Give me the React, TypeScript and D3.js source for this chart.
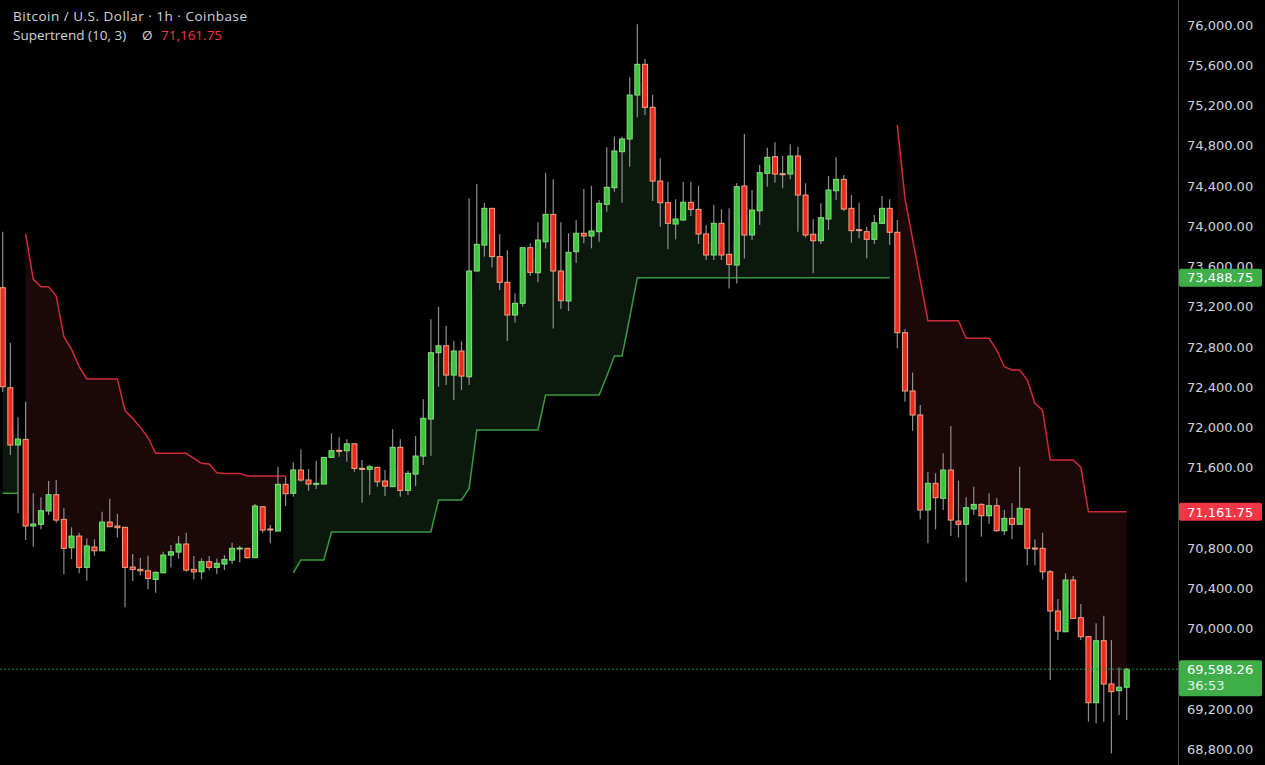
import React from 'react';
import * as d3 from 'd3';

const W = 1265;
const H = 765;

const opens = [
  73389, 72395, 71826, 71882, 71021, 71038, 71170, 71332, 71087, 70805,
  70921, 70610, 70812, 70775, 71060, 71021, 71008, 70613, 70590, 70576,
  70490, 70556, 70732, 70762, 70842, 70590, 70566, 70666, 70610, 70643,
  70682, 70795, 70799, 70706, 71213, 70991, 70971, 71435, 71346, 71577,
  71478, 71435, 71438, 71703, 71773, 71769, 71838, 71594, 71584, 71604,
  71468, 71412, 71803, 71375, 71537, 71716, 72084, 72743, 72812, 72521,
  72760, 72504, 73555, 73813, 74178, 73698, 73443, 73118, 73234, 73787,
  73538, 73846, 74118, 73555, 73257, 73747, 73930, 73903, 73946, 74218,
  74383, 74741, 74867, 75304, 75609, 75182, 74449, 74234, 74022, 74062,
  74238, 74168, 73923, 73714, 74029, 73721, 73614, 74400, 73913, 74154,
  74526, 74691, 74522, 74519, 74698, 74310, 73920, 73856, 74072, 74353,
  74466, 74178, 73966, 73946, 73870, 74029, 74178, 73940, 72942, 72363,
  72124, 71180, 71445, 71296, 71577, 71070, 71038, 71190, 71236, 71123,
  71223, 70974, 71097, 71038, 71190, 70802, 70799, 70566, 70176, 69970,
  70484, 70110, 69921, 69265, 69881, 69451, 69385, 69419,
];

const highs = [
  73945, 72842, 72101, 72256, 71346, 71306, 71468, 71478, 71197, 71008,
  70954, 70898, 70888, 71163, 71293, 71144, 71011, 70742, 70703, 70725,
  70572, 70765, 70832, 70921, 70954, 70722, 70699, 70722, 70699, 70732,
  70855, 70822, 70802, 71240, 71220, 71031, 71610, 71511, 71654, 71783,
  71587, 71667, 71703, 71942, 71902, 71882, 71838, 71677, 71627, 71610,
  71577, 71982, 71882, 71570, 71915, 72280, 73075, 73199, 73010, 72859,
  72859, 74277, 74419, 74234, 74178, 73920, 73764, 73333, 73787, 73830,
  74039, 74532, 74466, 74039, 73930, 74062, 74369, 74402, 74260, 74784,
  74890, 74890, 75480, 76007, 75663, 75304, 74675, 74441, 74268, 74441,
  74441, 74402, 74012, 74211, 74168, 74178, 74427, 74916, 74360, 74609,
  74780, 74834, 74698, 74814, 74790, 74427, 74072, 74228, 74499, 74685,
  74509, 74310, 74234, 73996, 74111, 74300, 74268, 74062, 72976, 72547,
  72223, 71561, 71544, 71743, 72015, 71471, 71306, 71412, 71246, 71346,
  71296, 71180, 71246, 71610, 71200, 70888, 70954, 70583, 70295, 70550,
  70524, 70245, 69928, 70054, 70130, 69888, 69616, 69610,
];

const lows = [
  72355, 71726, 71147, 70882, 70815, 70988, 71130, 71053, 70544, 70693,
  70551, 70477, 70726, 70772, 71011, 70908, 70213, 70474, 70531, 70392,
  70358, 70553, 70610, 70696, 70566, 70490, 70490, 70583, 70544, 70583,
  70643, 70660, 70699, 70703, 70954, 70849, 70971, 71220, 71312, 71461,
  71370, 71390, 71438, 71703, 71709, 71659, 71560, 71253, 71329, 71412,
  71319, 71412, 71312, 71329, 71418, 71627, 71716, 72405, 72422, 72273,
  72372, 72422, 73555, 73698, 73591, 73366, 72859, 73044, 73200, 73509,
  73443, 73779, 72984, 73178, 73158, 73636, 73830, 73780, 73846, 74144,
  74343, 74234, 74592, 75083, 75105, 74250, 73996, 73771, 73870, 74052,
  74101, 73824, 73664, 73664, 73664, 73382, 73432, 73680, 73863, 74012,
  74393, 74433, 74377, 74466, 73945, 73890, 73532, 73824, 73963, 74260,
  74155, 73837, 73880, 73681, 73824, 74029, 73814, 72787, 72256, 71967,
  71089, 70849, 70988, 71180, 70921, 70908, 70464, 71130, 70915, 71044,
  70964, 70931, 70892, 71038, 70630, 70630, 70490, 69490, 69888, 69970,
  70103, 69888, 69077, 69060, 69076, 68762, 69143, 69093,
];

const closes = [
  72405, 71826, 71885, 71021, 71041, 71173, 71332, 71080, 70799, 70921,
  70610, 70822, 70775, 71060, 71014, 71004, 70610, 70590, 70576, 70500,
  70560, 70732, 70765, 70842, 70583, 70566, 70666, 70610, 70650, 70689,
  70799, 70802, 70706, 71220, 70981, 70981, 71435, 71342, 71578, 71478,
  71438, 71445, 71703, 71769, 71766, 71838, 71594, 71584, 71610, 71461,
  71418, 71803, 71375, 71544, 71716, 72091, 72743, 72812, 72521, 72760,
  72511, 73555, 73820, 74178, 73698, 73443, 73118, 73234, 73787, 73542,
  73863, 74118, 73555, 73260, 73741, 73930, 73903, 73953, 74228, 74387,
  74748, 74867, 75304, 75609, 75182, 74449, 74234, 74029, 74072, 74238,
  74168, 73923, 73714, 74029, 73714, 73621, 74393, 73913, 74161, 74532,
  74685, 74519, 74516, 74698, 74310, 73913, 73856, 74085, 74360, 74466,
  74171, 73956, 73960, 73870, 74035, 74178, 73940, 72942, 72363, 72124,
  71180, 71445, 71302, 71577, 71080, 71038, 71203, 71236, 71123, 71223,
  70974, 71097, 71038, 71197, 70799, 70795, 70566, 70176, 69977, 70484,
  70103, 69921, 69265, 69881, 69451, 69375, 69419, 69598.26,
];

// Supertrend (10, 3): up-trend line values (green) and down-trend line values (red)
const stUp: (number | null)[] = [
  71346, 71346, 71346, null, null, null, null, null, null, null,
  null, null, null, null, null, null, null, null, null, null,
  null, null, null, null, null, null, null, null, null, null,
  null, null, null, null, null, null, null, null, 70556, 70683,
  70683, 70683, 70683, 70961, 70961, 70961, 70961, 70961, 70961, 70961,
  70961, 70961, 70961, 70961, 70961, 70961, 70961, 71279, 71279, 71279,
  71279, 71395, 71975, 71975, 71975, 71975, 71975, 71975, 71975, 71975,
  71975, 72322, 72322, 72322, 72322, 72322, 72322, 72322, 72322, 72510,
  72710, 72710, 73093, 73488.75, 73488.75, 73488.75, 73488.75, 73488.75, 73488.75, 73488.75,
  73488.75, 73488.75, 73488.75, 73488.75, 73488.75, 73488.75, 73488.75, 73488.75, 73488.75, 73488.75,
  73488.75, 73488.75, 73488.75, 73488.75, 73488.75, 73488.75, 73488.75, 73488.75, 73488.75, 73488.75,
  73488.75, 73488.75, 73488.75, 73488.75, 73488.75, 73488.75, 73488.75, null, null, null,
  null, null, null, null, null, null, null, null, null, null,
  null, null, null, null, null, null, null, null, null, null,
  null, null, null, null, null, null, null, null,
];

const stDown: (number | null)[] = [
  null, null, null, 73923, 73473, 73400, 73400, 73307, 72903, 72778,
  72605, 72483, 72483, 72483, 72483, 72483, 72166, 72091, 72001, 71902,
  71743, 71743, 71743, 71743, 71743, 71694, 71644, 71637, 71551, 71544,
  71544, 71544, 71518, 71518, 71518, 71518, 71518, 71518, null, null,
  null, null, null, null, null, null, null, null, null, null,
  null, null, null, null, null, null, null, null, null, null,
  null, null, null, null, null, null, null, null, null, null,
  null, null, null, null, null, null, null, null, null, null,
  null, null, null, null, null, null, null, null, null, null,
  null, null, null, null, null, null, null, null, null, null,
  null, null, null, null, null, null, null, null, null, null,
  null, null, null, null, null, null, null, 75006, 74278, 73873,
  73466, 73061, 73061, 73061, 73061, 73061, 72887, 72887, 72887, 72887,
  72770, 72604, 72571, 72571, 72472, 72240, 72173, 71677, 71677, 71677,
  71677, 71605, 71161.75, 71161.75, 71161.75, 71161.75, 71161.75, 71161.75,
];

const priceTicks = [
  76000, 75600, 75200, 74800, 74400, 74000, 73600, 73200, 72800, 72400,
  72000, 71600, 71200, 70800, 70400, 70000, 69600, 69200, 68800,
];

const titleText = 'Bitcoin / U.S. Dollar · 1h · Coinbase';
const indicatorText = 'Supertrend (10, 3)';
const countdownText = '36:53';

const UP = '#3dc43f';
const UP_BORDER = '#86e07f';
const DOWN = '#ec2a1e';
const DOWN_BORDER = '#f6a582';
const WICK = '#8e8e8e';
const AXIS_FONT = '"DejaVu Sans", sans-serif';
const TITLE_FONT = '"Open Sans", "Noto Sans", sans-serif';

export default function App() {
  const n = opens.length;
  const x = d3.scaleLinear().domain([0, n - 1]).range([2.7, 1126.7]);
  const y = d3.scaleLinear().domain([68800, 76000]).range([749.5, 25]);
  const fmt = d3.format(',.2f');
  const idx = d3.range(n);
  const mid = (i: number) => (opens[i] + closes[i]) / 2;

  const upArea = d3
    .area<number>()
    .defined((i) => stUp[i] != null)
    .x((i) => x(i))
    .y0((i) => y(mid(i)))
    .y1((i) => y(stUp[i] as number));
  const downArea = d3
    .area<number>()
    .defined((i) => stDown[i] != null)
    .x((i) => x(i))
    .y0((i) => y(mid(i)))
    .y1((i) => y(stDown[i] as number));
  const upLine = d3
    .line<number>()
    .defined((i) => stUp[i] != null)
    .x((i) => x(i))
    .y((i) => y(stUp[i] as number));
  const downLine = d3
    .line<number>()
    .defined((i) => stDown[i] != null)
    .x((i) => x(i))
    .y((i) => y(stDown[i] as number));

  const lastClose = closes[n - 1];
  const lastUp = 73488.75;
  const lastDown = 71161.75;
  const axisX = 1178.5;
  const bw = 5;

  return (
    <svg
      width={W}
      height={H}
      style={{ position: 'absolute', left: 0, top: 0, background: '#000', display: 'block' }}
    >
      <rect x={0} y={0} width={W} height={H} fill="#000" />
      <path d={upArea(idx) || ''} fill="#0c180d" />
      <path d={downArea(idx) || ''} fill="#1b0909" />
      <path d={upLine(idx) || ''} fill="none" stroke="#399a3c" strokeWidth={1.5} />
      <path d={downLine(idx) || ''} fill="none" stroke="#cf2a38" strokeWidth={1.5} />

      {idx.map((i) => {
        const o = opens[i];
        const c = closes[i];
        const up = c >= o;
        const top = y(Math.max(o, c));
        const h = Math.max(1, Math.abs(y(o) - y(c)));
        return (
          <g key={i}>
            <line x1={x(i)} x2={x(i)} y1={y(highs[i])} y2={y(lows[i])} stroke={WICK} strokeWidth={1.2} />
            <rect
              x={x(i) - bw / 2}
              y={top}
              width={bw}
              height={h}
              fill={up ? UP : DOWN}
              stroke={up ? UP_BORDER : DOWN_BORDER}
              strokeWidth={1}
            />
          </g>
        );
      })}

      <line
        x1={0}
        x2={axisX}
        y1={y(lastClose)}
        y2={y(lastClose)}
        stroke="#2f8f3a"
        strokeWidth={1}
        strokeDasharray="2 2"
      />

      <line x1={axisX} x2={axisX} y1={0} y2={H} stroke="#4a4a4a" strokeWidth={1} />
      {priceTicks.map((t) => (
        <text
          key={t}
          x={1187}
          y={y(t)}
          dy="0.36em"
          fill="#d1d4dc"
          fontFamily={AXIS_FONT}
          fontSize={13}
        >
          {fmt(t)}
        </text>
      ))}

      <g>
        <rect x={axisX + 0.5} y={y(lastUp) - 9} width={83} height={18} rx={2} fill="#3fae49" />
        <text x={1187} y={y(lastUp)} dy="0.36em" fill="#fff" fontFamily={AXIS_FONT} fontSize={13}>
          {fmt(lastUp)}
        </text>
      </g>
      <g>
        <rect x={axisX + 0.5} y={y(lastDown) - 9} width={83} height={18} rx={2} fill="#f23645" />
        <text x={1187} y={y(lastDown)} dy="0.36em" fill="#fff" fontFamily={AXIS_FONT} fontSize={13}>
          {fmt(lastDown)}
        </text>
      </g>
      <g>
        <rect x={axisX + 0.5} y={y(lastClose) - 9} width={83} height={36} rx={2} fill="#3fae49" />
        <text x={1187} y={y(lastClose)} dy="0.36em" fill="#fff" fontFamily={AXIS_FONT} fontSize={13}>
          {fmt(lastClose)}
        </text>
        <text x={1187} y={y(lastClose) + 16.5} dy="0.36em" fill="#e8f5e9" fontFamily={AXIS_FONT} fontSize={13}>
          {countdownText}
        </text>
      </g>

      <text
        x={13}
        y={21}
        fill="#d1d4dc"
        fontFamily={TITLE_FONT}
        fontSize={13.5}
        textLength={234}
        lengthAdjust="spacing"
      >
        {titleText}
      </text>
      <text y={40} fontFamily={TITLE_FONT} fontSize={13.5}>
        <tspan x={13} fill="#d1d4dc">{indicatorText}</tspan>
        <tspan x={142} fill="#d1d4dc">Ø</tspan>
        <tspan x={161} fill="#f23645">{fmt(lastDown)}</tspan>
      </text>
    </svg>
  );
}
